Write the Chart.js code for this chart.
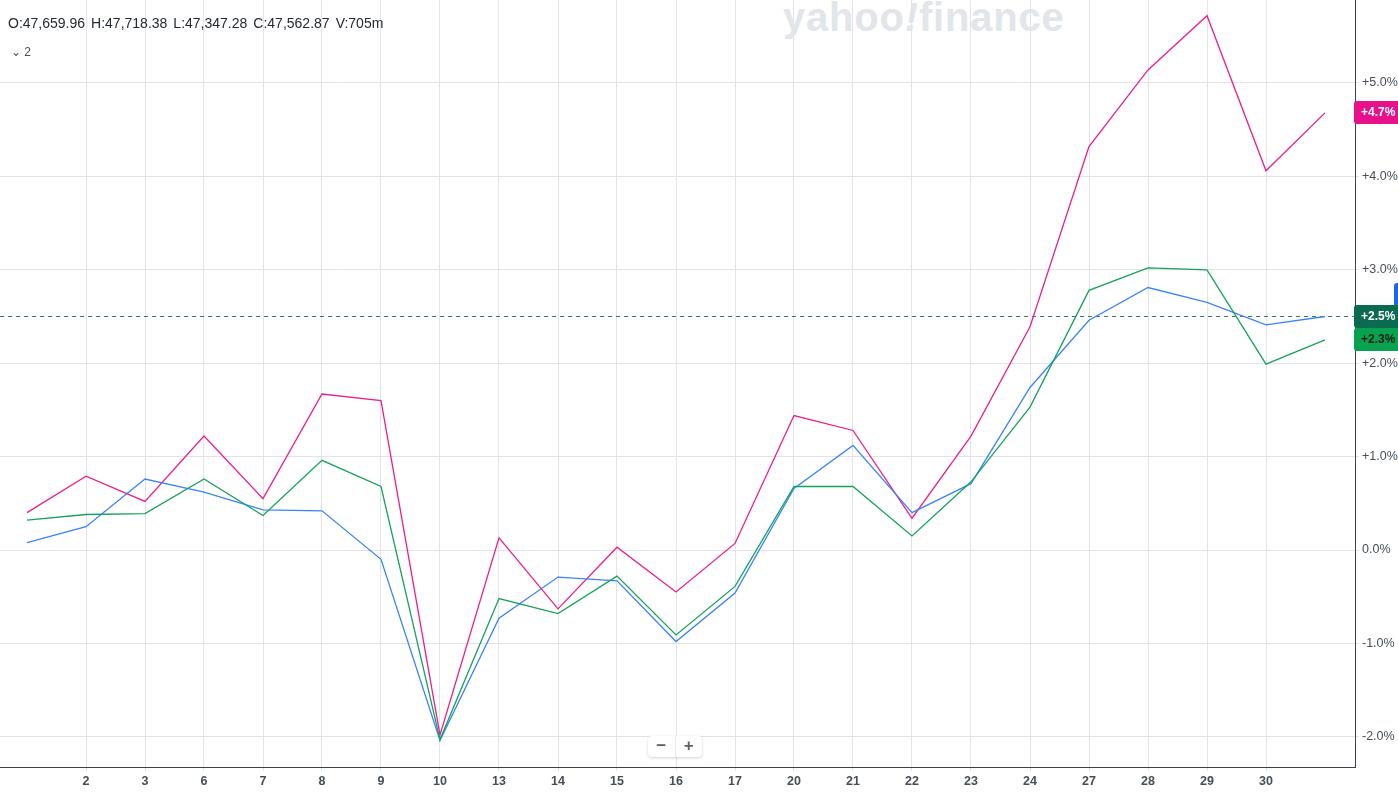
<!DOCTYPE html>
<html>
<head>
<meta charset="utf-8">
<script src="https://cdn.jsdelivr.net/npm/chart.js@4/dist/chart.umd.min.js"></script>
<style>
  html, body { margin:0; padding:0; background:#fff; overflow:hidden; }
  #wrap { position:relative; width:1398px; height:793px; }
  #wm { position:absolute; left:783px; top:-5px; font:bold 40px "Liberation Sans", Arial, sans-serif; color:#e2e5e9; letter-spacing:0.8px; white-space:nowrap; z-index:0; }
  #wm i { font-style:italic; }
  canvas { position:absolute; left:0; top:0; z-index:1; }
  #ohlc { position:absolute; left:8px; top:15px; font:14px "Liberation Sans", Arial, sans-serif; color:#232a31; z-index:2; white-space:nowrap; }
  #ohlc span { margin-right:6px; }
  #cnt { position:absolute; left:11px; top:45px; font:12px "Liberation Sans", Arial, sans-serif; color:#464e56; z-index:2; }
  #zoom { position:absolute; left:648px; top:736px; width:54px; height:21px; background:#fff; border-radius:4px; box-shadow:0 1px 3px rgba(0,0,0,0.18); z-index:2; display:flex; font:bold 17px "Liberation Sans", Arial, sans-serif; color:#5b636a; }
  #zoom div { flex:1; text-align:center; line-height:20px; }
  #zoom div:first-child { border-right:1px solid #e6e8eb; }
</style>
</head>
<body>
<div id="wrap">
  <div id="wm">yahoo<i>!</i>finance</div>
  <canvas id="c" width="1398" height="793"></canvas>
  <div id="ohlc"><span>O:47,659.96</span><span>H:47,718.38</span><span>L:47,347.28</span><span>C:47,562.87</span><span>V:705m</span></div>
  <div id="cnt">&#8964; 2</div>
  <div id="zoom"><div>&minus;</div><div>+</div></div>
</div>
<script>
const days = ['1','2','3','6','7','8','9','10','13','14','15','16','17','20','21','22','23','24','27','28','29','30','31'];
const pinkSeries  = [0.40, 0.79, 0.52, 1.22, 0.55, 1.67, 1.60, -1.98, 0.13, -0.63, 0.03, -0.45, 0.07, 1.44, 1.28, 0.34, 1.22, 2.39, 4.32, 5.14, 5.72, 4.06, 4.68];
const greenSeries = [0.32, 0.38, 0.39, 0.76, 0.37, 0.96, 0.68, -2.03, -0.52, -0.68, -0.28, -0.91, -0.39, 0.68, 0.68, 0.15, 0.73, 1.53, 2.78, 3.02, 3.00, 1.99, 2.25];
const blueSeries  = [0.08, 0.25, 0.76, 0.62, 0.43, 0.42, -0.10, -2.04, -0.73, -0.29, -0.33, -0.98, -0.46, 0.66, 1.12, 0.40, 0.71, 1.74, 2.46, 2.81, 2.65, 2.41, 2.50];
const yTicks = [-2, -1, 0, 1, 2, 3, 4, 5];

const toPts = arr => arr.map((v, i) => ({x: i, y: v}));
const fmt = v => (v > 0 ? '+' : '') + v.toFixed(1) + '%';

Chart.defaults.font.family = '"Liberation Sans", Arial, sans-serif';

const labelsPlugin = {
  id: 'labelsPlugin',
  beforeDatasetsDraw(chart) {
    const {ctx, chartArea, scales:{y}} = chart;
    const py = Math.round(y.getPixelForValue(blueSeries[blueSeries.length-1])) + 0.5;
    ctx.save();
    ctx.strokeStyle = '#3e7766';
    ctx.lineWidth = 1;
    ctx.setLineDash([4, 4]);
    ctx.beginPath();
    ctx.moveTo(chartArea.left, py);
    ctx.lineTo(chartArea.right, py);
    ctx.stroke();
    ctx.restore();
  },
  afterDraw(chart) {
    const {ctx, chartArea, scales:{y}} = chart;
    const x0 = chartArea.right - 1;
    function box(val, bg, fg) {
      const cy = y.getPixelForValue(val);
      const h = 23, top = Math.round(cy - h/2);
      ctx.fillStyle = bg;
      ctx.beginPath();
      ctx.roundRect(x0, top, 60, h, 3);
      ctx.fill();
      ctx.fillStyle = fg;
      ctx.font = 'bold 12px "Liberation Sans", Arial, sans-serif';
      ctx.textBaseline = 'middle';
      ctx.textAlign = 'left';
      ctx.fillText(fmt(val), x0 + 7, top + h/2 + 0.5);
    }
    ctx.save();
    const by = y.getPixelForValue(2.72);
    ctx.fillStyle = '#1f66e5';
    ctx.beginPath();
    ctx.roundRect(x0 + 40, Math.round(by - 13), 20, 26, 3);
    ctx.fill();
    box(pinkSeries[pinkSeries.length-1], '#e8118c', '#ffffff');
    box(greenSeries[greenSeries.length-1], '#06a24f', '#0f1d15');
    box(blueSeries[blueSeries.length-1], '#0b6b50', '#ffffff');
    ctx.restore();
  }
};

new Chart(document.getElementById('c'), {
  type: 'line',
  data: {
    datasets: [
      { data: toPts(greenSeries), borderColor: '#16a25c', borderWidth: 1.3, pointRadius: 0, tension: 0 },
      { data: toPts(blueSeries),  borderColor: '#3a84f7', borderWidth: 1.3, pointRadius: 0, tension: 0 },
      { data: toPts(pinkSeries),  borderColor: '#ec1f8c', borderWidth: 1.3, pointRadius: 0, tension: 0 }
    ]
  },
  options: {
    responsive: false,
    animation: false,
    layout: { padding: 0, autoPadding: false },
    plugins: { legend: { display: false }, tooltip: { enabled: false } },
    scales: {
      x: {
        type: 'linear',
        min: -27/59,
        max: 22 + 30/59,
        afterBuildTicks: s => { s.ticks = days.slice(1, -1).map((d, i) => ({value: i + 1})); },
        afterFit: s => { s.height = 26; s.paddingLeft = 0; s.paddingRight = 0; s.paddingTop = 0; s.paddingBottom = 0; },
        ticks: { callback: v => days[v], color: '#464e56', font: { size: 12.5, weight: 'bold' }, padding: 3, maxRotation: 0, autoSkip: false },
        grid: { color: '#e1e3e7', tickLength: 4, lineWidth: 1 },
        border: { color: '#3b4149', width: 1 }
      },
      y: {
        position: 'right',
        min: -(767 - 550) / 93.4,
        max: 550 / 93.4,
        afterBuildTicks: s => { s.ticks = yTicks.map(v => ({value: v})); },
        afterFit: s => { s.width = 43; s.paddingTop = 0; s.paddingBottom = 0; s.paddingLeft = 0; s.paddingRight = 0; },
        ticks: { callback: v => fmt(v), color: '#464e56', font: { size: 12.5 }, padding: 3 },
        grid: { color: '#e1e3e7', tickLength: 4, lineWidth: 1 },
        border: { color: '#3b4149', width: 1 }
      }
    }
  },
  plugins: [labelsPlugin]
});
</script>
</body>
</html>
